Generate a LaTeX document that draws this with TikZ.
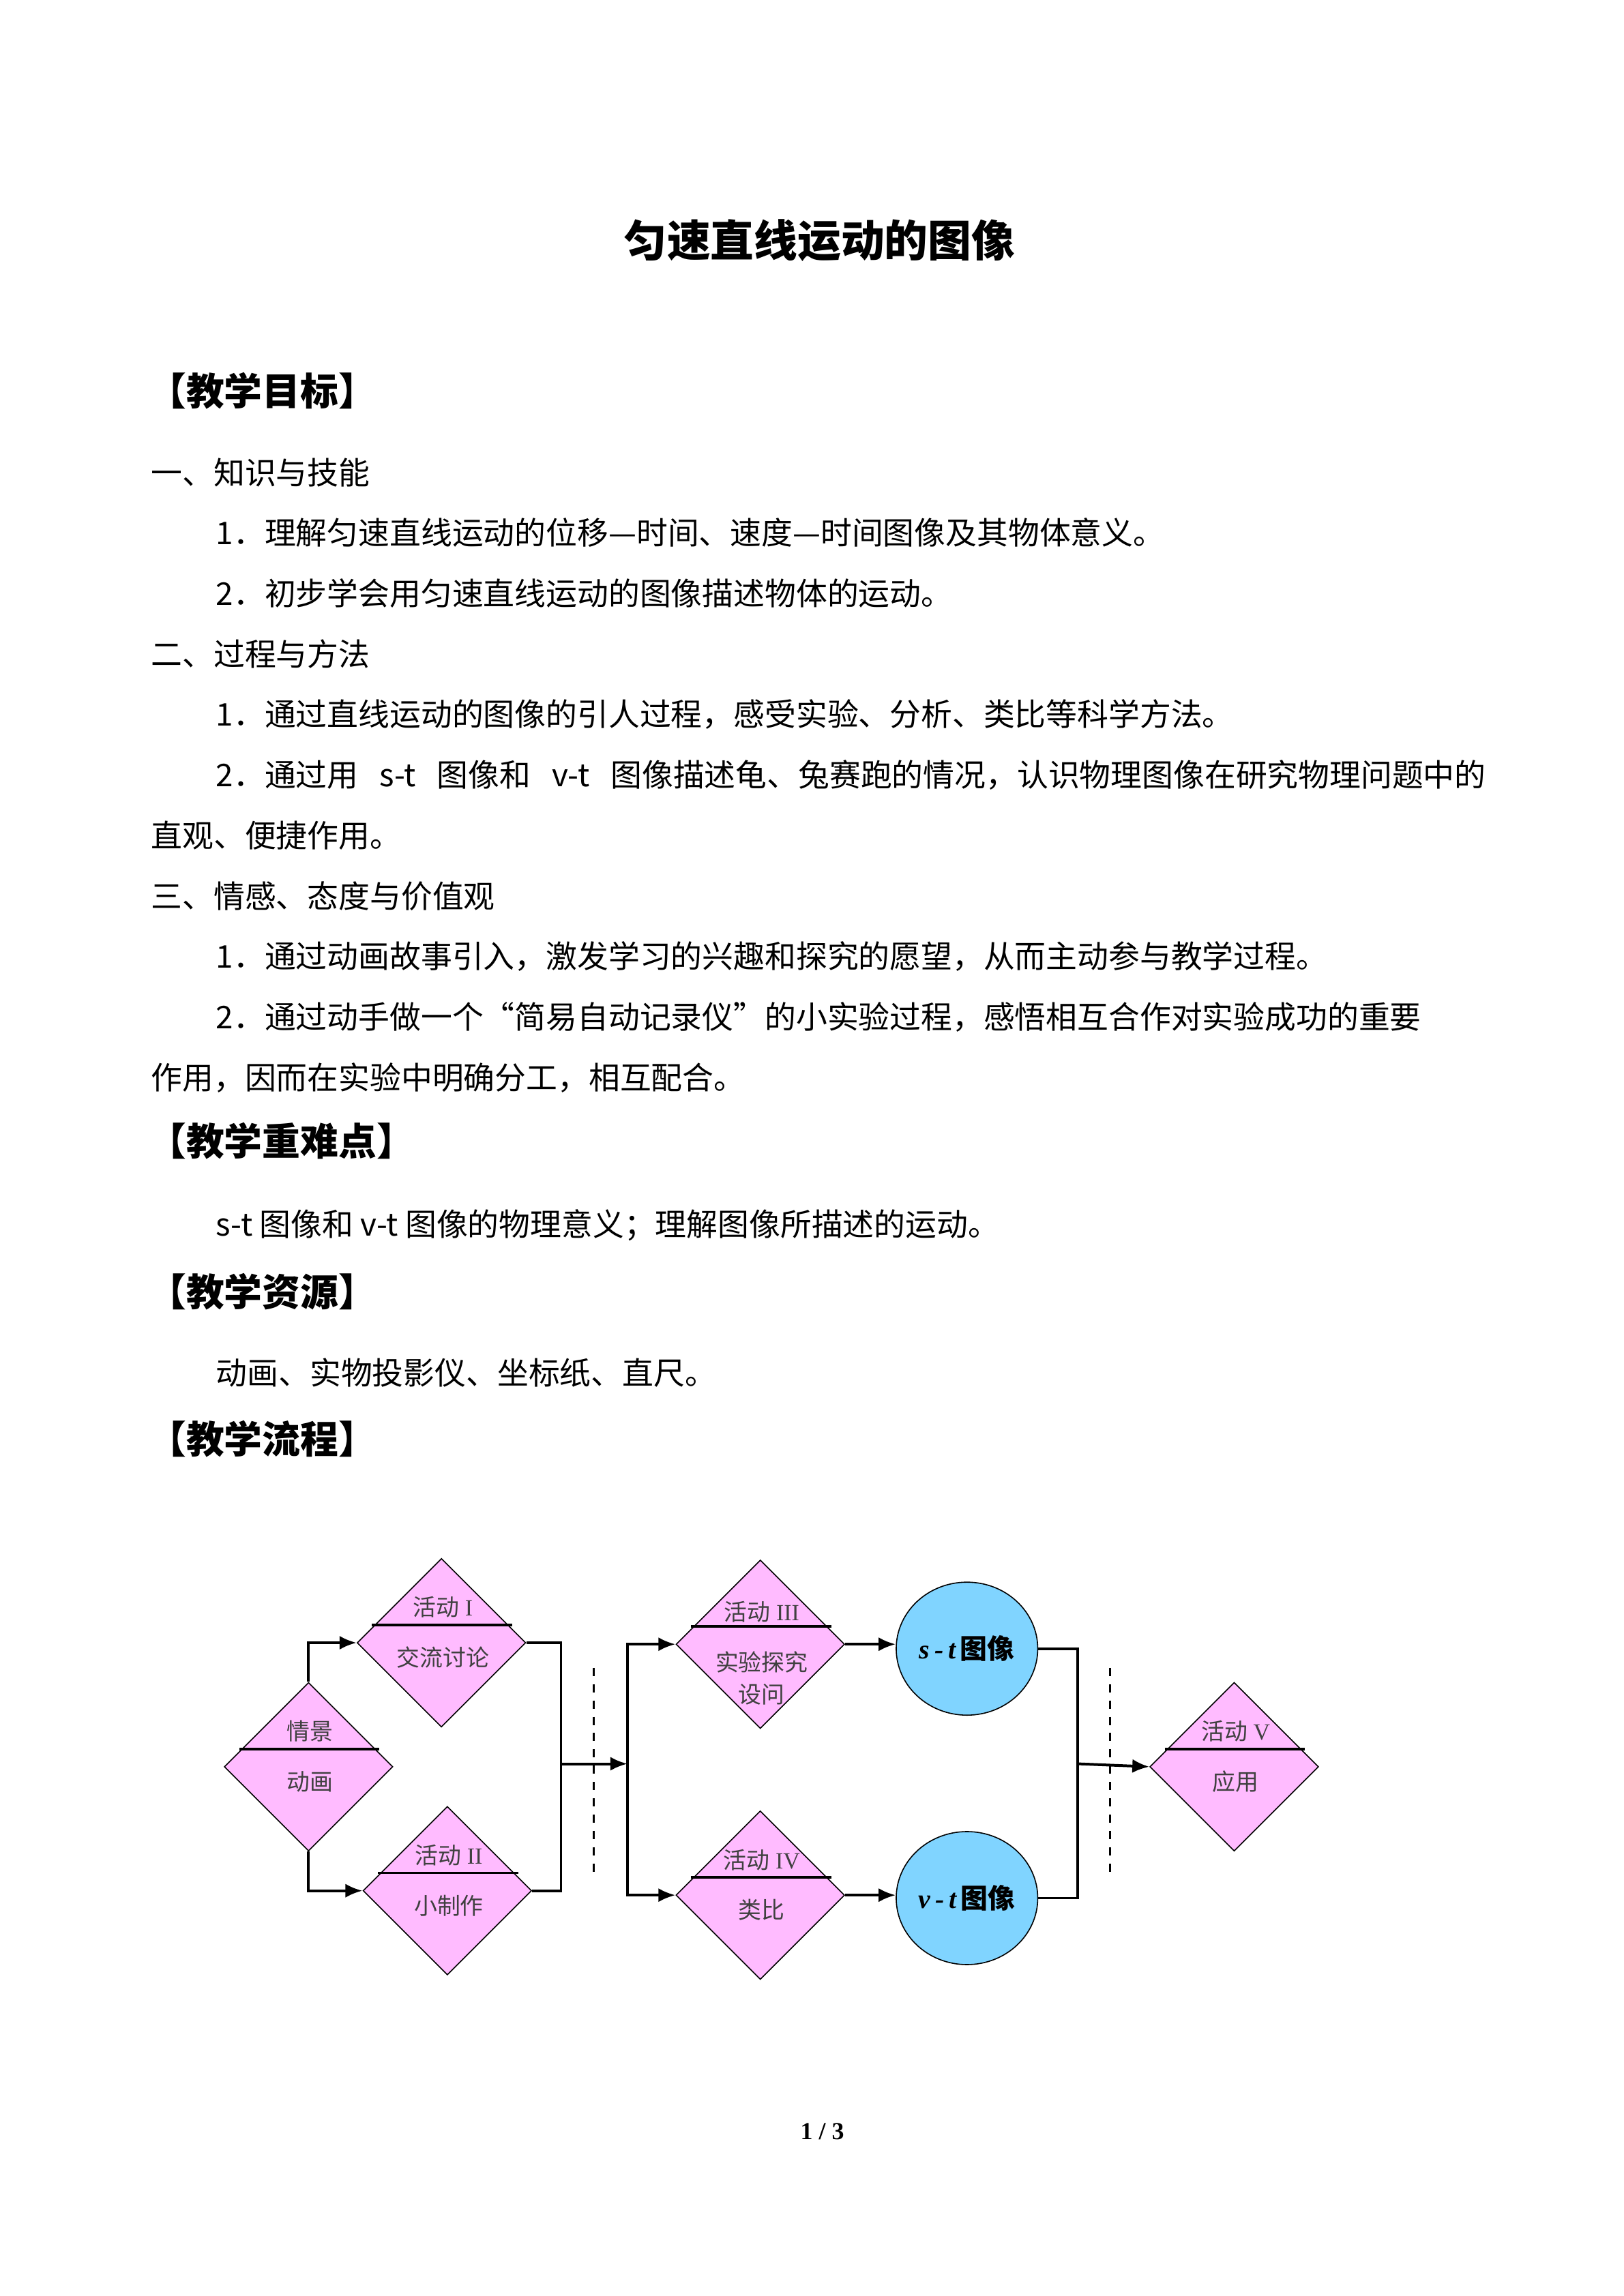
\documentclass[tikz,border=0pt]{standalone}
\usepackage{fontspec}
\setmainfont{Noto Sans CJK SC}
\newfontfamily\latinserif{Liberation Serif}
\usetikzlibrary{positioning,shapes.geometric,arrows.meta,calc}
\XeTeXlinebreaklocale "zh"
\XeTeXlinebreakskip=0pt plus 3pt
\definecolor{pinkfill}{HTML}{FFBBFF}
\definecolor{bluefill}{HTML}{80D4FF}
\newcommand{\bodyline}[1]{\fontsize{11.5}{13}\selectfont #1}
\newcommand{\fullline}[1]{\makebox[16.42cm][s]{\bodyline{#1}}}
\tikzset{
  txt/.style={anchor=west, inner sep=0},
  head/.style={anchor=west, inner sep=0, font=\fontsize{14}{16}\selectfont\bfseries},
  dia/.style={draw, diamond, fill=pinkfill, minimum width=2.18cm, minimum height=2.18cm, inner sep=0},
  graph/.style={draw, ellipse, fill=bluefill, minimum width=1.83cm, minimum height=1.72cm, inner sep=0},
  lab/.style={inner sep=0, text=black!75, font=\fontsize{8.5}{10}\selectfont},
  arr/.style={-{Latex[length=2.2mm,width=1.8mm]}, line width=1pt},
  con/.style={line width=1pt}
}
\begin{document}
\begin{tikzpicture}[x=0.01909cm, y=-0.01909cm]
  \useasboundingbox (0,0) rectangle (1100,1555.6);
  % title
  \node[inner sep=0, font=\fontsize{16}{18}\selectfont\bfseries] (title) at (555,163) {匀速直线运动的图像};
  \node[head] (goal) at (100,265) {【教学目标】};
  \node[txt] (s1) at (102,320) {\bodyline{一、知识与技能}};
  \node[txt] (s11) at (146,361) {\bodyline{1．理解匀速直线运动的位移—时间、速度—时间图像及其物体意义。}};
  \node[txt] (s12) at (146,402) {\bodyline{2．初步学会用匀速直线运动的图像描述物体的运动。}};
  \node[txt] (s2) at (102,443) {\bodyline{二、过程与方法}};
  \node[txt] (s21) at (146,484) {\bodyline{1．通过直线运动的图像的引人过程，感受实验、分析、类比等科学方法。}};
  \node[txt] (s22) at (146,525) {\fullline{2．通过用 s-t 图像和 v-t 图像描述龟、兔赛跑的情况，认识物理图像在研究物理问题中的}};
  \node[txt] (s22b) at (102,566) {\bodyline{直观、便捷作用。}};
  \node[txt] (s3) at (102,607) {\bodyline{三、情感、态度与价值观}};
  \node[txt] (s31) at (146,648) {\bodyline{1．通过动画故事引入，激发学习的兴趣和探究的愿望，从而主动参与教学过程。}};
  \node[txt] (s32) at (146,689) {\fullline{2．通过动手做一个“简易自动记录仪”的小实验过程，感悟相互合作对实验成功的重要}};
  \node[txt] (s32b) at (102,730) {\bodyline{作用，因而在实验中明确分工，相互配合。}};
  \node[head] (key) at (100,773) {【教学重难点】};
  \node[txt] (k1) at (146,830) {\bodyline{s-t 图像和 v-t 图像的物理意义；理解图像所描述的运动。}};
  \node[head] (res) at (100,875) {【教学资源】};
  \node[txt] (r1) at (146,930) {\bodyline{动画、实物投影仪、坐标纸、直尺。}};
  \node[head] (flow) at (100,975) {【教学流程】};
  % flow chart
  \node[dia] (qj) at (209,1197) {};
  \node[dia] (hd1) at (299,1113) {};
  \node[dia] (hd2) at (303,1281) {};
  \node[dia] (hd3) at (515,1114) {};
  \node[dia] (hd4) at (515,1284) {};
  \node[dia] (hd5) at (836,1197) {};
  \node[graph] (st) at (655,1117) {\fontsize{10}{12}\selectfont{\latinserif\bfseries\itshape s\,-\,t}\,\textbf{图像}};
  \node[graph] (vt) at (655,1286) {\fontsize{10}{12}\selectfont{\latinserif\bfseries\itshape v\,-\,t}\,\textbf{图像}};
  \foreach \d/\top/\bot in {qj/情景/动画, hd1/{活动{\latinserif\ I}}/交流讨论, hd2/{活动{\latinserif\ II}}/小制作,
      hd4/{活动{\latinserif\ IV}}/类比, hd5/{活动{\latinserif\ V}}/应用} {
    \draw[line width=0.9pt] ($(\d)+(-47,-12)$) -- ($(\d)+(48,-12)$);
    \node[lab] at ($(\d)+(1,-24)$) {\top};
    \node[lab] at ($(\d)+(1,10)$) {\bot};
  }
  \draw[line width=0.9pt] ($(hd3)+(-47,-12)$) -- ($(hd3)+(48,-12)$);
  \node[lab] (hd3a) at ($(hd3)+(1,-22)$) {活动{\latinserif\ III}};
  \node[lab] (hd3b) at ($(hd3)+(1,12)$) {实验探究};
  \node[lab] (hd3c) at ($(hd3)+(1,34)$) {设问};
  % connectors
  \coordinate (j1) at (380,1195);
  \coordinate (j2) at (425,1195);
  \coordinate (j3) at (730,1195);
  \draw[arr] (qj.north) |- (hd1.west);
  \draw[arr] (qj.south) |- (hd2.west);
  \draw[con] (hd1.east) -| (j1);
  \draw[con] (hd2.east) -| (j1);
  \draw[arr] (j1) -- (j2);
  \draw[arr] (j2) |- (hd3.west);
  \draw[arr] (j2) |- (hd4.west);
  \draw[arr] (hd3.east) -- (st.west |- hd3.east);
  \draw[arr] (hd4.east) -- (vt.west |- hd4.east);
  \draw[con] (st.east) -| (j3);
  \draw[con] (vt.east) -| (j3);
  \draw[arr] (j3) -- (hd5.west);
  \draw[dashed, line width=0.8pt] (402,1130) -- (402,1268);
  \draw[dashed, line width=0.8pt] (752,1130) -- (752,1268);
  % footer
  \node[inner sep=0, font=\fontsize{9}{10}\selectfont\bfseries\latinserif] (page) at (557,1444) {1 / 3};
\end{tikzpicture}
\end{document}
